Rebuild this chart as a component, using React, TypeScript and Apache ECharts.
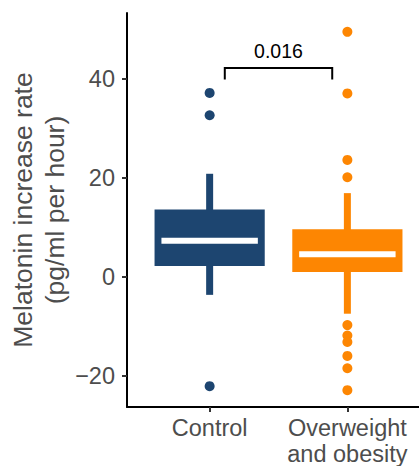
import React, { useEffect, useRef } from "react";
import * as echarts from "echarts";

// ---- data ----
const categories = ["Control", "Overweight\nand obesity"];
const categoryPositions = [1, 2];
// [lower whisker, Q1, median, Q3, upper whisker]
const controlStats = [-3.6, 2.2, 7.3, 13.6, 20.8];
const overweightStats = [-7.4, 1.0, 4.6, 9.6, 16.9];
const controlOutliers = [37.1, 32.6, -22.0];
const overweightOutliers = [49.4, 37.0, 23.6, 20.1, -9.7, -11.8, -13.1, -15.9, -18.4, -22.8];
const yTicks = [-20, 0, 20, 40];
const pValueLabels = ["0.016"];
// bracket: [fromX, toX, barY, tipY, labelY]
const bracketSpec = [1.11, 1.89, 42.1, 39.8, 45.6];

const COLORS = ["#1d4570", "#fd8602"];
const FONT = "Liberation Sans, Arial, Helvetica, sans-serif";

export default function App() {
  const ref = useRef<HTMLDivElement>(null);

  useEffect(() => {
    if (!ref.current) return;
    const chart = echarts.init(ref.current, undefined, { renderer: "svg" });

    const boxRender = (params: any, api: any) => {
      const x = api.value(0);
      const low = api.coord([x, api.value(1)]);
      const q1 = api.coord([x, api.value(2)]);
      const med = api.coord([x, api.value(3)]);
      const q3 = api.coord([x, api.value(4)]);
      const high = api.coord([x, api.value(5)]);
      const bw = api.size([0.8, 0])[0];
      const mw = api.size([0.7, 0])[0];
      const color = api.visual("color");
      return {
        type: "group",
        children: [
          {
            type: "rect",
            shape: { x: low[0] - 3.5, y: high[1], width: 7, height: low[1] - high[1] },
            style: { fill: color },
          },
          {
            type: "rect",
            shape: { x: q1[0] - bw / 2, y: q3[1], width: bw, height: q1[1] - q3[1] },
            style: { fill: color },
          },
          {
            type: "rect",
            shape: { x: med[0] - mw / 2, y: med[1] - 3, width: mw, height: 6 },
            style: { fill: "#ffffff" },
          },
        ],
      };
    };

    const bracketRender = (params: any, api: any) => {
      const x1 = api.value(0);
      const x2 = api.value(1);
      const a = api.coord([x1, api.value(3)]);
      const b = api.coord([x1, api.value(2)]);
      const c = api.coord([x2, api.value(2)]);
      const d = api.coord([x2, api.value(3)]);
      const t = api.coord([(x1 + x2) / 2, api.value(4)]);
      return {
        type: "group",
        children: [
          {
            type: "polyline",
            shape: { points: [a, b, c, d] },
            style: { stroke: "#000", lineWidth: 2, fill: "none" },
          },
          {
            type: "text",
            x: t[0],
            y: t[1],
            style: {
              text: pValueLabels[params.dataIndex],
              fill: "#000",
              font: `19.5px ${FONT}`,
              align: "center",
              verticalAlign: "middle",
            },
          },
        ],
      };
    };

    chart.setOption({
      animation: false,
      backgroundColor: "#ffffff",
      grid: { left: 127, right: 0, top: 13, bottom: 59, outerBoundsMode: "none", containLabel: false },
      xAxis: {
        type: "value",
        min: 0.4,
        max: 2.52,
        splitLine: { show: false },
        axisLine: { show: true, onZero: false, lineStyle: { color: "#000", width: 2 } },
        axisTick: {
          show: true,
          customValues: categoryPositions,
          length: 5,
          lineStyle: { color: "#333", width: 2 },
        },
        axisLabel: {
          customValues: categoryPositions,
          formatter: (v: number) => categories[categoryPositions.indexOf(v)] ?? "",
          color: "#4d4d4d",
          fontSize: 23.5,
          fontFamily: FONT,
          lineHeight: 26,
          margin: 8,
          align: "center",
        },
      },
      yAxis: {
        type: "value",
        min: -26.2,
        max: 53.2,
        splitLine: { show: false },
        axisLine: { show: true, onZero: false, lineStyle: { color: "#000", width: 2 } },
        axisTick: {
          show: true,
          customValues: yTicks,
          length: 5,
          lineStyle: { color: "#333", width: 2 },
        },
        axisLabel: {
          customValues: yTicks,
          formatter: (v: number) => (v < 0 ? "\u2212" + Math.abs(v) : String(v)),
          color: "#4d4d4d",
          fontSize: 23.5,
          fontFamily: FONT,
          margin: 12,
        },
        name: "Melatonin increase rate\n(pg/ml per hour)",
        nameLocation: "middle",
        nameRotate: 90,
        nameGap: 56,
        nameMoveOverlap: false,
        nameTextStyle: {
          color: "#4d4d4d",
          fontSize: 26.5,
          fontFamily: FONT,
          lineHeight: 32,
          align: "center",
        },
      },
      series: [
        {
          type: "custom",
          renderItem: boxRender,
          itemStyle: { color: COLORS[0] },
          data: [[categoryPositions[0], ...controlStats]],
          z: 2,
        },
        {
          type: "custom",
          renderItem: boxRender,
          itemStyle: { color: COLORS[1] },
          data: [[categoryPositions[1], ...overweightStats]],
          z: 2,
        },
        {
          type: "scatter",
          symbolSize: 10,
          itemStyle: { color: COLORS[0], opacity: 1 },
          data: controlOutliers.map((v) => [categoryPositions[0], v]),
          z: 3,
        },
        {
          type: "scatter",
          symbolSize: 10,
          itemStyle: { color: COLORS[1], opacity: 1 },
          data: overweightOutliers.map((v) => [categoryPositions[1], v]),
          z: 3,
        },
        {
          type: "custom",
          renderItem: bracketRender,
          data: [bracketSpec],
          z: 4,
        },
      ],
    });

    return () => chart.dispose();
  }, []);

  return (
    <div
      ref={ref}
      style={{ position: "fixed", left: 0, top: 0, width: 419, height: 466 }}
    />
  );
}
